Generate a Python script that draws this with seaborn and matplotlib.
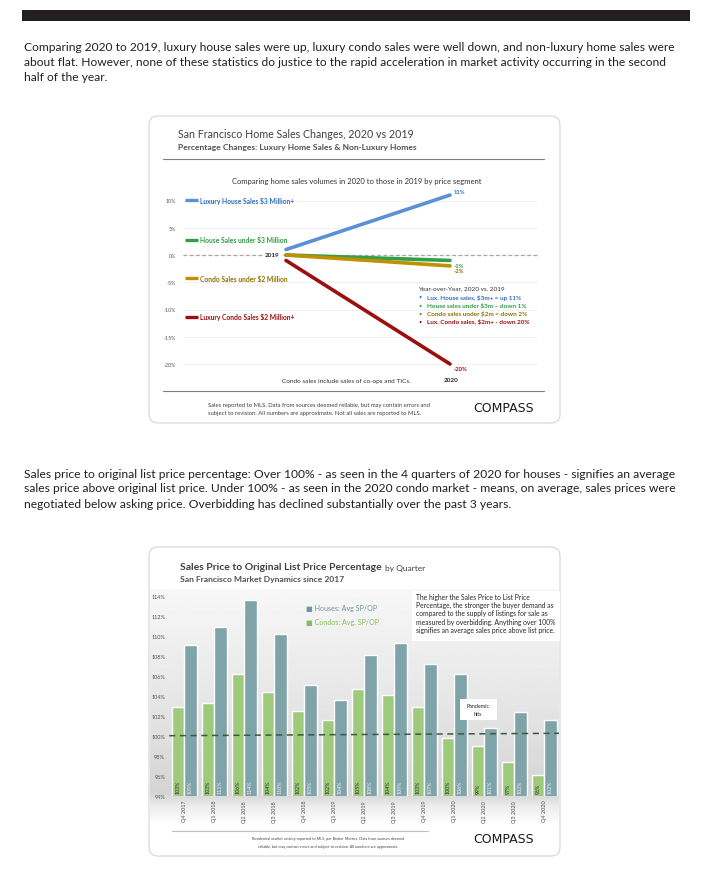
import numpy as np
import pandas as pd
import matplotlib
matplotlib.use('Agg')
import matplotlib.pyplot as plt
import seaborn as sns
from matplotlib.patches import FancyBboxPatch, Rectangle

sns.set_style('white')
plt.rcParams['font.family'] = ['Lato', 'DejaVu Sans']

# ---- chart 1: sales changes 2020 vs 2019
segments = ['Luxury House Sales $3 Million+', 'House Sales under $3 Million',
            'Condo Sales under $2 Million', 'Luxury Condo Sales $2 Million+']
change_2019 = [1, 0, 0, -1]
change_2020 = [11, -1, -2, -20]
end_labels = ['11%', '-1%', '-2%', '-20%']
yticks1 = [10, 5, 0, -5, -10, -15, -20]
ytick1_labels = ['10%', '5%', '0%', '-5%', '-10%', '-15%', '-20%']
bullets = ['Lux. House sales, $3m+ = up 11%', 'House sales under $3m \u2013 down 1%',
           'Condo sales under $2m = down 2%', 'Lux. Condo sales, $2m+ - down 20%']
seg_colors = ['#5b8fd6', '#33a047', '#bf9000', '#9c0f0f']
txt_colors = ['#2f6fbf', '#2e9e44', '#8f7000', '#9c0f0f']

# ---- chart 2: sales price to original list price
quarters = ['Q4 2017', 'Q1 2018', 'Q2 2018', 'Q3 2018', 'Q4 2018', 'Q1 2019', 'Q2 2019',
            'Q3 2019', 'Q4 2019', 'Q1 2020', 'Q2 2020', 'Q3 2020', 'Q4 2020']
condo_sp = [102.9, 103.3, 106.2, 104.4, 102.5, 101.6, 104.7, 104.1, 102.9, 99.8, 99.0, 97.4, 96.1]
house_sp = [109.1, 110.9, 113.6, 110.2, 105.1, 103.6, 108.1, 109.3, 107.2, 106.2, 100.8, 102.4, 101.6]
yticks2 = [94, 96, 98, 100, 102, 104, 106, 108, 110, 112, 114]

W, H = 702, 895
fig = plt.figure(figsize=(W / 100, H / 100), dpi=100)
r = fig.canvas.get_renderer()


def pos(l, t, rt, b):
    return [l / W, 1 - b / H, (rt - l) / W, (b - t) / H]


def fit(t, w):
    t.set_fontsize(t.get_fontsize() * w / t.get_window_extent(r).width)
    return t.get_fontsize()


bg = fig.add_axes([0, 0, 1, 1])
bg.axis('off')

# cards
for (x0, y0, x1, y1) in [(149, 117, 560, 424), (149, 548, 560, 857)]:
    bg.add_patch(FancyBboxPatch((x0, y0), x1 - x0, y1 - y0, boxstyle='round,pad=0,rounding_size=9',
                                fc='white', ec='#d4d4d4', lw=0.8, zorder=1))

# gradient behind bar chart
ys = np.linspace(590, 826, 240)
shade = np.interp(ys, [590, 640, 720, 795, 808, 826], [0.97, 0.94, 0.89, 0.83, 0.93, 1.0])
bg.imshow(shade[:, None], extent=[150, 559, 826, 590], aspect='auto', cmap='gray',
          vmin=0, vmax=1, zorder=2)
bg.set_xlim(0, W)
bg.set_ylim(H, 0)

# ---- chart 1 axes
def y1px(v):
    return 256 - 5.45 * v

ax1 = fig.add_axes(pos(183, y1px(12), 538, y1px(-22)))
ax1.set_facecolor('none')
df1 = pd.DataFrame({'segment': segments * 2, 'x': [0] * 4 + [1] * 4,
                    'change': change_2019 + change_2020})
sns.lineplot(data=df1, x='x', y='change', hue='segment', hue_order=segments,
             palette=seg_colors, lw=2.6, legend=False, ax=ax1, zorder=3)
ax1.set_xlim((183 - 286) / 164, (538 - 286) / 164)
ax1.set_ylim(-22, 12)
ax1.set_yticks(yticks1)
ax1.set_yticklabels(ytick1_labels)
ax1.set_xticks([])
ax1.tick_params(length=0, labelsize=3.8, colors='#595959', pad=5)
ax1.grid(axis='y', color='#efefef', lw=0.6)
ax1.set_axisbelow(True)
ax1.axhline(0, color='#a6a6a6', ls=(0, (3, 2)), lw=0.9, zorder=1)
ax1.set_xlabel('')
ax1.set_ylabel('')
sns.despine(ax=ax1, left=True, bottom=True)
ax1.text(-0.085, 0, '2019', ha='center', va='center', fontsize=4.6, fontweight='bold',
         color='#262626', zorder=5, bbox=dict(fc='white', ec='none', pad=1.2))
ax1.text(1.006, -22.9, '2020', ha='center', va='center', fontsize=4.6, fontweight='bold',
         color='#262626', clip_on=False)
for lab, yv, col in zip(end_labels, change_2020, txt_colors):
    ax1.text(1.02, yv - 0.9 if yv < 0 else yv + 0.6, lab, ha='left', va='center',
             fontsize=4.2, fontweight='bold', color=col)

# ---- chart 2 axes
def y2px(v):
    return 796.7 - 10 * (v - 94)

ax2 = fig.add_axes(pos(169.2, y2px(114.5), 559.2, 796.7))
ax2.set_facecolor('none')
df2 = pd.DataFrame({'quarter': quarters * 2, 'type': ['Condos'] * 13 + ['Houses'] * 13,
                    'value': condo_sp + house_sp})
sns.barplot(data=df2, x='quarter', y='value', hue='type', hue_order=['Condos', 'Houses'],
            palette=['#9dcb7b', '#7ea3a8'], width=0.83, saturation=1, legend=False, ax=ax2)
ax2.set_ylim(94, 114.5)
ax2.set_xlim(-0.5, 12.5)
ax2.set_yticks(yticks2)
ax2.set_yticklabels([f'{v}%' for v in yticks2])
ax2.set_xticks(range(len(quarters)))
ax2.set_xticklabels(quarters, rotation=90)
ax2.tick_params(length=0, labelsize=4.0, colors='#505050', pad=3)
ax2.set_xlabel('')
ax2.set_ylabel('')
sns.despine(ax=ax2, left=True, bottom=True)
ax2.plot([-0.5, 12.5], [100.0, 100.24], color='#3b5a3b', ls=(0, (4, 3)), lw=1.1, zorder=4)
for cont, vals, col in zip(ax2.containers, [condo_sp, house_sp], ['#2b2b2b', '#f4f4f4']):
    for bar, v in zip(cont, vals):
        ax2.text(bar.get_x() + bar.get_width() / 2, 94.3, f'{v:.0f}%', rotation=90,
                 ha='center', va='bottom', fontsize=3.8, color=col)

# ---- overlay for page text
top = fig.add_axes([0, 0, 1, 1], facecolor='none')
top.axis('off')
top.set_xlim(0, W)
top.set_ylim(H, 0)

top.add_patch(Rectangle((22, 11), 668, 11, fc='#231f20', ec='none'))
ink = '#231f20'
para1 = ['Comparing 2020 to 2019, luxury house sales were up, luxury condo sales were well down, and non-luxury home sales were',
         'about flat. However, none of these statistics do justice to the rapid acceleration in market activity occurring in the second',
         'half of the year.']
para2 = ['Sales price to original list price percentage: Over 100% - as seen in the 4 quarters of 2020 for houses - signifies an average',
         'sales price above original list price. Under 100% - as seen in the 2020 condo market - means, on average, sales prices were',
         'negotiated below asking price. Overbidding has declined substantially over the past 3 years.']
for lines, y0, w in [(para1, 47.5, 650), (para2, 474, 655)]:
    ts = [top.text(24, y0 + 15 * i, s, fontsize=8, color=ink, va='center') for i, s in enumerate(lines)]
    fs = fit(ts[0], w)
    for t in ts[1:]:
        t.set_fontsize(fs)

# chart 1 header/footer
fit(top.text(178, 134, 'San Francisco Home Sales Changes, 2020 vs 2019', fontsize=8,
             color='#404040', va='center'), 236)
fit(top.text(178, 147, 'Percentage Changes: Luxury Home Sales & Non-Luxury Homes', fontsize=6,
             color='#505050', va='center', fontweight='bold'), 238)
top.plot([163, 544], [160, 160], color='#7f7f7f', lw=0.8)
fit(top.text(357, 181, 'Comparing home sales volumes in 2020 to those in 2019 by price segment',
             fontsize=5, color='#333333', ha='center', va='center'), 251)

label_rows = [201, 240.7, 279.3, 317.7]
fs = None
for seg, col, tcol, yy in zip(segments, seg_colors, txt_colors, label_rows):
    top.plot([185, 198], [yy, yy], color=col, lw=2.4, solid_capstyle='butt')
    t = top.text(200, yy, seg, color=tcol, fontsize=5, va='center', fontweight='bold')
    if fs is None:
        fs = fit(t, 97)
    else:
        t.set_fontsize(fs)

hdr = top.text(417.7, 289, 'Year-over-Year, 2020 vs. 2019', fontsize=4, color='#333333', va='center')
bl = []
for i, (b, col) in enumerate(zip(bullets, txt_colors)):
    yy = 297.7 + 8.3 * i
    top.text(418, yy, '\u2022', fontsize=4, color=col, va='center')
    bl.append(top.text(427, yy, b, fontsize=4, color=col, va='center', fontweight='bold'))
fs = fit(bl[3], 101)
for t in bl[:3] + [hdr]:
    t.set_fontsize(fs)

fit(top.text(346, 381.5, 'Condo sales include sales of co-ops and TICs.', fontsize=5,
             color='#333333', ha='center', va='center'), 129)
top.plot([163, 544], [391.7, 391.7], color='#7f7f7f', lw=0.8)
f1 = top.text(208, 406, 'Sales reported to MLS. Data from sources deemed reliable, but may contain errors and',
              fontsize=3.5, color='#404040', va='center')
fs = fit(f1, 225)
top.text(208, 414, 'subject to revision. All numbers are approximate. Not all sales are reported to MLS.',
         fontsize=fs, color='#404040', va='center')
top.text(504, 408.5, 'COMPASS', fontsize=9, color='#1a1a1a', ha='center', va='center',
         family='DejaVu Sans')

# chart 2 header/legend/notes
t = top.text(180, 567.5, 'Sales Price to Original List Price Percentage', fontsize=8,
             color='#404040', va='center', fontweight='bold')
fit(t, 203)
fit(top.text(385, 568.5, 'by Quarter', fontsize=5, color='#404040', va='center'), 41)
fit(top.text(180, 579.5, 'San Francisco Market Dynamics since 2017', fontsize=6,
             color='#505050', va='center', fontweight='bold'), 164)

lg = [top.text(306, 609, '\u25a0 Houses: Avg SP/OP', fontsize=5, color='#6d979d', va='center'),
      top.text(306, 622.3, '\u25a0 Condos: Avg. SP/OP', fontsize=5, color='#86bf5a', va='center')]
fs = fit(lg[1], 74)
lg[0].set_fontsize(fs)

top.add_patch(Rectangle((411.7, 591.7), 148.3, 50, fc='white', ec='none'))
note = ['The higher the Sales Price to List Price',
        'Percentage, the stronger the buyer demand as',
        'compared to the supply of listings for sale as',
        'measured by overbidding. Anything over 100%',
        'signifies an average sales price above list price.']
nt = [top.text(415.7, 597.3 + 8.25 * i, s, fontsize=4, color='#262626', va='center')
      for i, s in enumerate(note)]
fs = fit(nt[4], 137)
for t in nt[:4]:
    t.set_fontsize(fs)

top.add_patch(Rectangle((460, 700), 36.7, 20.7, fc='white', ec='none'))
top.text(478.3, 706.5, 'Pandemic', fontsize=3.9, color='#262626', ha='center', va='center')
top.text(478.3, 714.5, 'hits', fontsize=3.9, color='#262626', ha='center', va='center')

top.plot([172, 428], [831.7, 831.7], color='#bfbfbf', lw=0.8)
f2 = top.text(328, 839.3, 'Residential market activity reported to MLS, per Broker Metrics. Data from sources deemed',
              fontsize=3.5, color='#404040', ha='center', va='center')
fs = fit(f2, 156)
top.text(328, 847.3, 'reliable, but may contain errors and subject to revision. All numbers are approximate.',
         fontsize=fs, color='#404040', ha='center', va='center')
top.text(504, 840, 'COMPASS', fontsize=9, color='#1a1a1a', ha='center', va='center',
         family='DejaVu Sans')

fig.savefig('out.png', dpi=100, facecolor='white')
